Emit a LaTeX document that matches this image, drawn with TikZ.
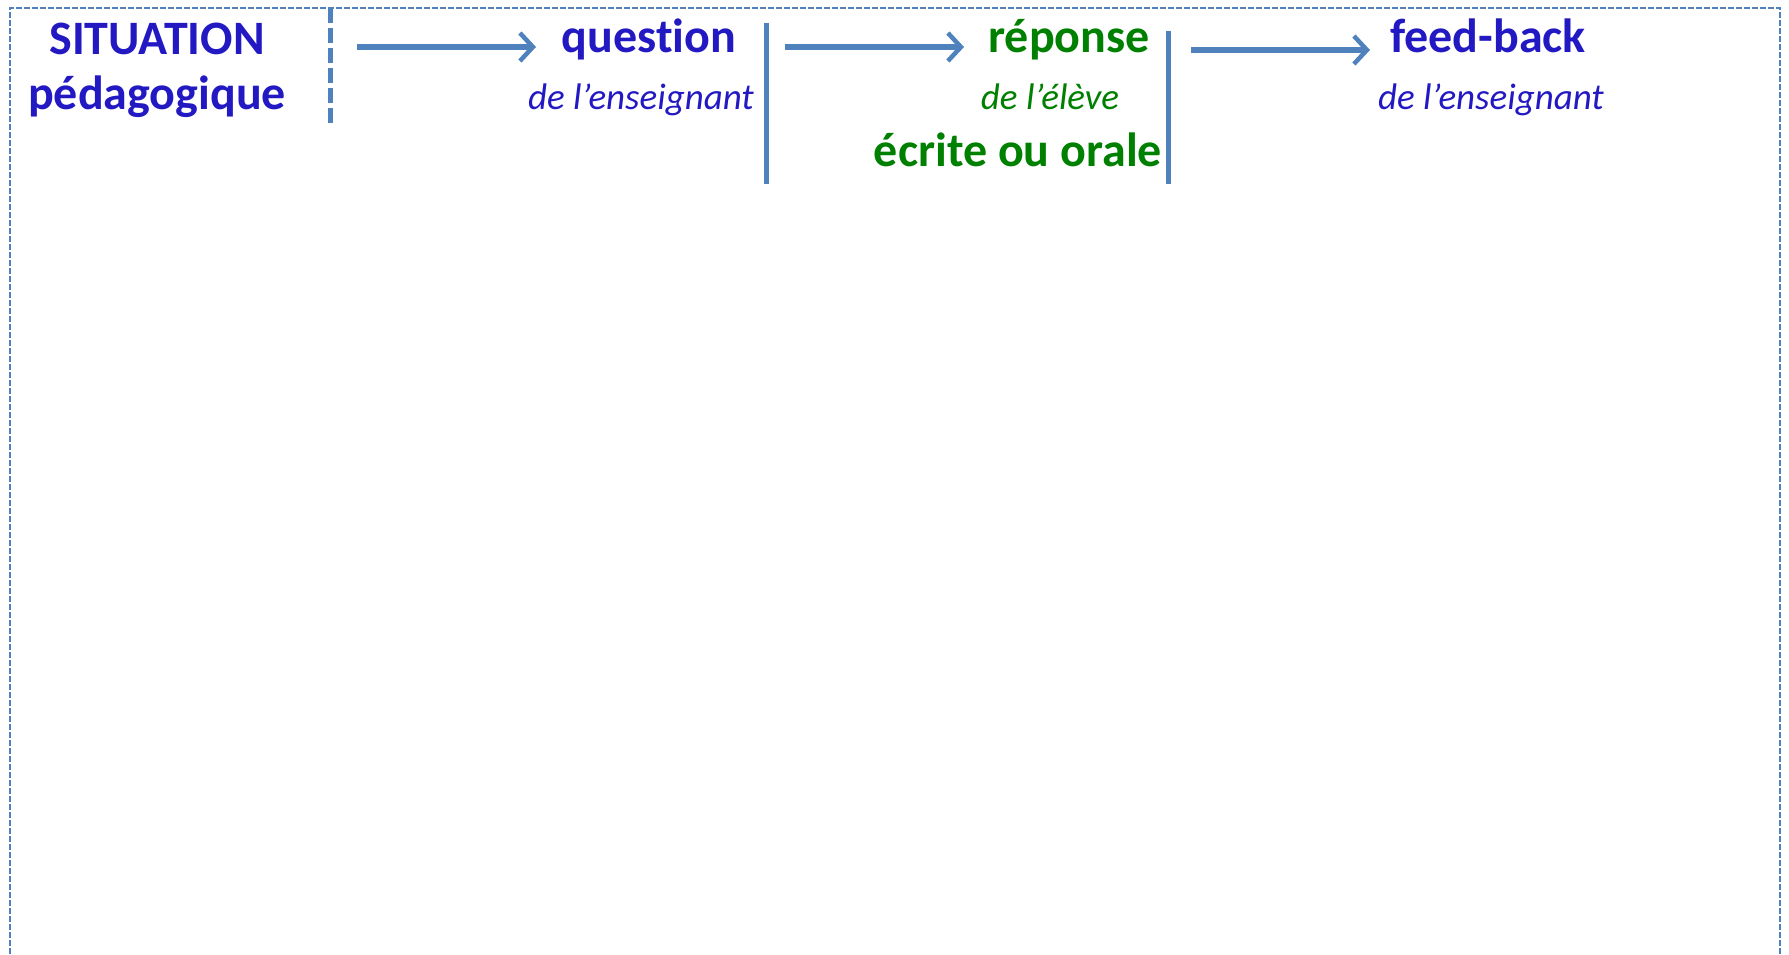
\documentclass[tikz,border=0pt]{standalone}
\usepackage{fontspec}
\setmainfont[Ligatures=NoCommon]{Carlito}
\usetikzlibrary{arrows.meta}
\definecolor{tblue}{RGB}{35,25,195}
\definecolor{tgreen}{RGB}{0,128,0}
\definecolor{lblue}{RGB}{79,129,189}
\tikzset{
  head/.style={font=\fontsize{48}{52}\selectfont\bfseries, inner sep=0pt, anchor=base},
  sub/.style={font=\fontsize{37}{40}\selectfont\itshape, inner sep=0pt, anchor=base},
  bar/.style={draw=lblue, line width=5pt},
  flow/.style={draw=lblue, line width=5.5pt, -{Straight Barb[length=13pt,width=28pt,line width=4.5pt]}},
  frame/.style={draw=lblue, line width=1.3pt, dash pattern=on 6pt off 2pt},
}
\begin{document}
\begin{tikzpicture}[x=1pt,y=-1pt]
\useasboundingbox (0,0) rectangle (1789,955);
\draw[frame] (10,970) -- (10,8) -- (1780,8) -- (1780,970);
% texts
\node[head, text=tblue] (sit) at (157,55) {SITUATION};
\node[head, text=tblue] (ped) at (157,110) {pédagogique};
\node[head, text=tblue] (q) at (649,53) {question};
\node[sub, text=tblue] (qs) at (641,110) {de l’enseignant};
\node[head, text=tgreen] (r) at (1069,53) {réponse};
\node[sub, text=tgreen] (rs) at (1050,110) {de l’élève};
\node[head, text=tgreen] (ro) at (1018,167) {écrite ou orale};
\node[head, text=tblue] (f) at (1488,53) {feed-back};
\node[sub, text=tblue] (fs) at (1491,110) {de l’enseignant};
% separators
\coordinate (d1) at (330,8);
\coordinate (d2) at (330,123);
\draw[bar, dash pattern=on 15pt off 5pt] (d1) -- (d2);
\coordinate (s1a) at (766,23);
\coordinate (s1b) at (766,184);
\draw[bar] (s1a) -- (s1b);
\coordinate (s2a) at (1168,31);
\coordinate (s2b) at (1168,184);
\draw[bar] (s2a) -- (s2b);
% arrows
\coordinate (a1s) at (357,47);
\coordinate (a1e) at (536,47);
\draw[flow] (a1s) -- (a1e);
\coordinate (a2s) at (785,47);
\coordinate (a2e) at (964,47);
\draw[flow] (a2s) -- (a2e);
\coordinate (a3s) at (1191,50);
\coordinate (a3e) at (1370,50);
\draw[flow] (a3s) -- (a3e);
\end{tikzpicture}
\end{document}
